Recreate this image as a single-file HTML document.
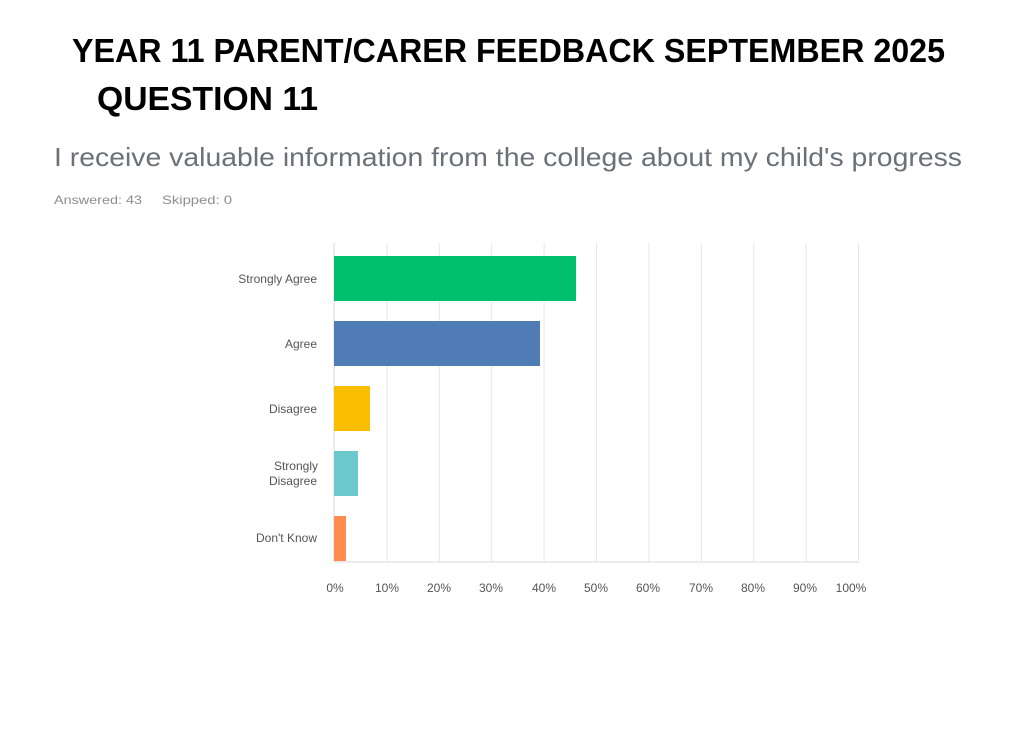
<!DOCTYPE html>
<html><head><meta charset="utf-8"><style>html,body{margin:0;padding:0;background:#fff}</style></head>
<body>
<svg width="1024" height="724" xmlns="http://www.w3.org/2000/svg" font-family="Liberation Sans, sans-serif">
<rect width="1024" height="724" fill="#fff"/>
<text x="72" y="62" font-size="33" font-weight="bold" fill="#000" textLength="873" lengthAdjust="spacingAndGlyphs">YEAR 11 PARENT/CARER FEEDBACK SEPTEMBER 2025</text>
<text x="97" y="110" font-size="33" font-weight="bold" fill="#000" textLength="221" lengthAdjust="spacingAndGlyphs">QUESTION 11</text>
<text x="54" y="166" font-size="26" fill="#6b7178" textLength="908" lengthAdjust="spacingAndGlyphs">I receive valuable information from the college about my child's progress</text>
<text x="54" y="204" font-size="12" fill="#8a8f94" textLength="88" lengthAdjust="spacingAndGlyphs">Answered: 43</text>
<text x="162" y="204" font-size="12" fill="#8a8f94" textLength="70" lengthAdjust="spacingAndGlyphs">Skipped: 0</text>
<g stroke="#e6e6e6" stroke-width="1">
<line x1="386.9" y1="243" x2="386.9" y2="562"/><line x1="439.3" y1="243" x2="439.3" y2="562"/>
<line x1="491.7" y1="243" x2="491.7" y2="562"/><line x1="544.1" y1="243" x2="544.1" y2="562"/>
<line x1="596.5" y1="243" x2="596.5" y2="562"/><line x1="648.9" y1="243" x2="648.9" y2="562"/>
<line x1="701.3" y1="243" x2="701.3" y2="562"/><line x1="753.7" y1="243" x2="753.7" y2="562"/>
<line x1="806.1" y1="243" x2="806.1" y2="562"/><line x1="858.5" y1="243" x2="858.5" y2="562"/>
</g>
<line x1="334" y1="243" x2="334" y2="562" stroke="#d8d8d8"/>
<line x1="334" y1="562" x2="858" y2="562" stroke="#d8d8d8"/>
<rect x="334" y="256" width="242" height="45" fill="#00bf6f"/>
<rect x="334" y="321" width="206" height="45" fill="#507cb6"/>
<rect x="334" y="386" width="36" height="45" fill="#f9be00"/>
<rect x="334" y="451" width="24" height="45" fill="#6bc8cd"/>
<rect x="334" y="516" width="12" height="45" fill="#ff8b4f"/>
<g font-size="12" fill="#555" text-anchor="end">
<text x="317" y="283">Strongly Agree</text>
<text x="317" y="348">Agree</text>
<text x="317" y="413">Disagree</text>
<text x="318" y="470">Strongly</text>
<text x="317" y="485">Disagree</text>
<text x="317" y="542">Don't Know</text>
</g>
<g font-size="12" fill="#555" text-anchor="middle">
<text x="335" y="592">0%</text><text x="387" y="592">10%</text><text x="439" y="592">20%</text>
<text x="491" y="592">30%</text><text x="544" y="592">40%</text><text x="596" y="592">50%</text>
<text x="648" y="592">60%</text><text x="701" y="592">70%</text><text x="753" y="592">80%</text>
<text x="805" y="592">90%</text><text x="851" y="592">100%</text>
</g>
</svg>
</body></html>
